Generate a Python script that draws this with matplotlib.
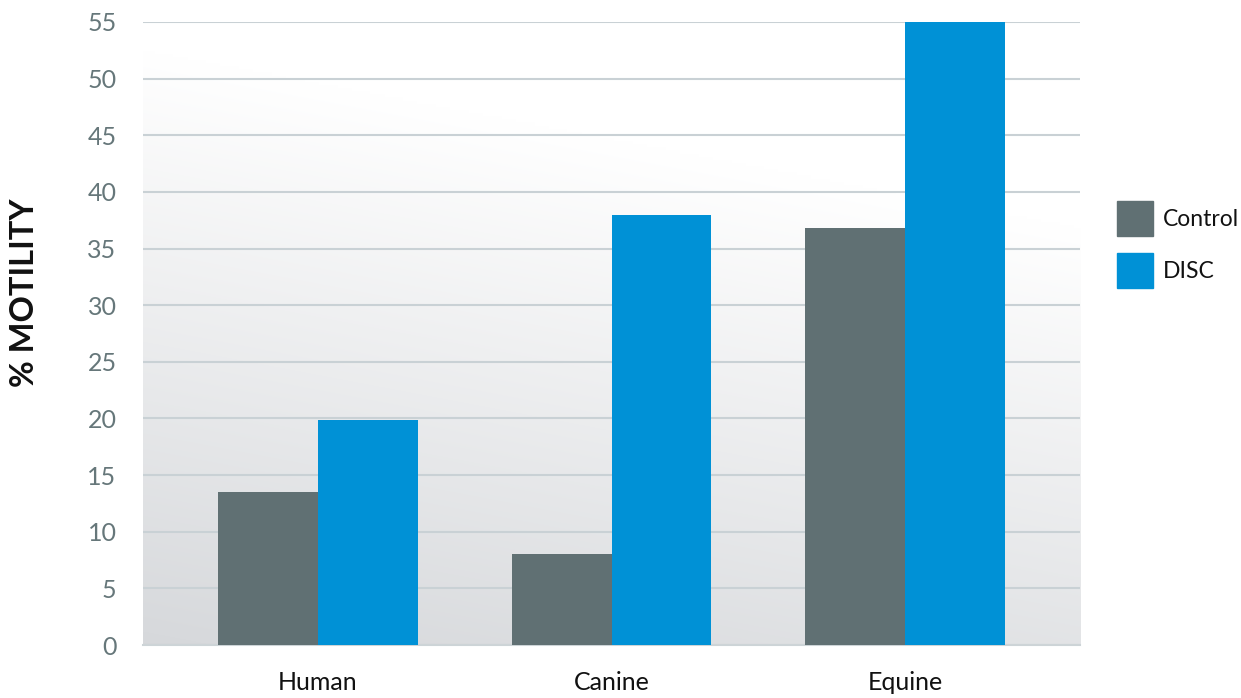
import numpy as np
import matplotlib.pyplot as plt
from matplotlib.patches import Patch

species = ['Human', 'Canine', 'Equine']
control = [13.5, 8.0, 36.8]
disc = [19.9, 38.0, 55.0]
yticks = [0, 5, 10, 15, 20, 25, 30, 35, 40, 45, 50, 55]

plt.rcParams['font.family'] = ['Lato', 'DejaVu Sans']

fig = plt.figure(figsize=(12.41, 6.98), dpi=100)
ax = fig.add_axes([0.1152, 0.0759, 0.7551, 0.8926])

# background gradient, grey bottom-left -> white top-right
gx, gy = np.meshgrid(np.linspace(0, 1, 200), np.linspace(0, 1, 200))
t = np.clip(gy * 1.05 + gx * 0.3, 0, 1)
lo = np.array([0.84, 0.848, 0.86])
hi = np.array([1.0, 1.0, 1.0])
img = lo + (hi - lo) * t[..., None]
ax.imshow(img, extent=[0, 1, 0, 1], transform=ax.transAxes, origin='lower',
          aspect='auto', zorder=0, interpolation='bilinear')

x = np.arange(len(species))
w = 0.34
ax.bar(x - w / 2, control, w, color='#607073', zorder=3, label='Control')
ax.bar(x + w / 2, disc, w, color='#0091d6', zorder=3, label='DISC')

ax.set_xlim(-0.596, 2.596)
ax.set_ylim(0, 55)
ax.set_yticks(yticks)
ax.set_xticks(x)
ax.set_xticklabels(species)
ax.yaxis.grid(True, color='#c9d1d5', linewidth=1.5, zorder=1)
ax.set_axisbelow(True)
for s in ['top', 'right', 'left']:
    ax.spines[s].set_visible(False)
ax.spines['bottom'].set_color('#cdd4d7')
ax.spines['bottom'].set_linewidth(1.5)
ax.tick_params(axis='both', length=0)
ax.tick_params(axis='y', pad=19, labelsize=18, labelcolor='#66777a')
ax.tick_params(axis='x', pad=19, labelsize=18, labelcolor='#111111')

fig.text(0.020, 0.580, '% MOTILITY', rotation=90, ha='center', va='center',
         fontsize=23.5, fontweight='bold', color='#111111')

handles = [Patch(color='#607073', label='Control'), Patch(color='#0091d6', label='DISC')]
leg = fig.legend(handles=handles, loc='center left', bbox_to_anchor=(0.900, 0.6497),
                 frameon=False, fontsize=16.5, handlelength=1.57, handleheight=1.99,
                 labelspacing=0.74, handletextpad=0.45, borderaxespad=0, borderpad=0)
for txt in leg.get_texts():
    txt.set_color('#111111')

fig.savefig('out.png', dpi=100)
